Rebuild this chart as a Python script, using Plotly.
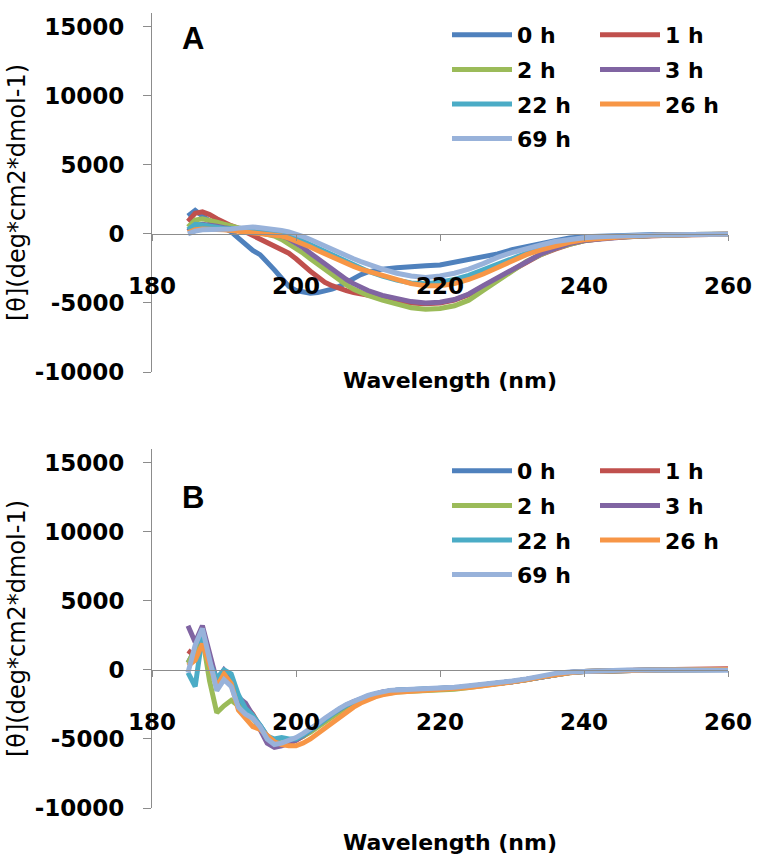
import plotly.graph_objects as go

# ---------------- data ----------------
series_names = ["0 h", "1 h", "2 h", "3 h", "22 h", "26 h", "69 h"]
series_colors = ["#4F81BD", "#C0504D", "#9BBB59", "#8064A2", "#4BACC6", "#F79646", "#98B2DA"]

# Panel A wavelengths (nm)
wl_a = [185, 186, 187, 188, 189, 190, 191, 192, 193, 194, 195, 196, 197, 198, 199, 200,
        201, 202, 203, 204, 205, 206, 207, 208, 209, 210, 212, 214, 216, 218, 220, 222,
        224, 226, 228, 230, 232, 234, 236, 238, 240, 243, 246, 250, 255, 260]

a_0h = [1300, 1700, 1300, 900, 600, 450, 150, -300, -800, -1200, -1500, -2000, -2600, -3200, -3800, -4100,
        -4200, -4300, -4250, -4150, -4000, -3800, -3500, -3200, -2950, -2750, -2550, -2450, -2350, -2300, -2250, -2050,
        -1850, -1650, -1450, -1150, -900, -700, -500, -300, -200, -150, -80, -50, -50, -50]
a_1h = [900, 1500, 1600, 1400, 1100, 800, 600, 400, 150, -100, -300, -600, -850, -1100, -1400, -1800,
        -2300, -2700, -3100, -3500, -3750, -3950, -4100, -4250, -4350, -4450, -4650, -4850, -5000, -5050, -5000, -4800,
        -4400, -3800, -3200, -2600, -2000, -1500, -1100, -750, -500, -300, -200, -100, -50, -30]
a_2h = [500, 1000, 1100, 1000, 850, 700, 550, 400, 300, 200, 100, 0, -150, -400, -700, -1050,
        -1400, -1800, -2200, -2600, -3000, -3350, -3700, -4000, -4250, -4450, -4800, -5100, -5350, -5450, -5400, -5200,
        -4800, -4100, -3400, -2700, -2000, -1500, -1050, -750, -500, -300, -200, -100, -50, -30]
a_3h = [200, 600, 700, 650, 550, 450, 380, 320, 260, 200, 150, 80, 0, -150, -350, -650,
        -1000, -1400, -1800, -2200, -2600, -2950, -3300, -3600, -3850, -4100, -4450, -4700, -4900, -5000, -4950, -4750,
        -4350, -3750, -3150, -2550, -1950, -1450, -1050, -700, -480, -300, -200, -100, -50, -30]
a_22h = [300, 700, 650, 550, 450, 400, 380, 380, 400, 420, 380, 300, 200, 80, -80, -300,
         -550, -800, -1050, -1300, -1550, -1800, -2050, -2300, -2500, -2700, -3050, -3350, -3550, -3600, -3500, -3300,
         -3000, -2600, -2200, -1800, -1350, -1000, -700, -500, -350, -200, -150, -80, -50, -30]
a_26h = [100, 300, 350, 350, 330, 300, 250, 200, 150, 100, 50, 0, -50, -150, -300, -500,
         -700, -950, -1200, -1450, -1700, -1950, -2150, -2350, -2550, -2700, -3050, -3350, -3600, -3750, -3750, -3600,
         -3300, -2900, -2450, -1950, -1500, -1150, -850, -600, -420, -280, -180, -100, -60, -30]
a_69h = [0, 200, 300, 300, 300, 300, 350, 420, 500, 500, 450, 400, 300, 250, 150, 0,
         -200, -400, -650, -900, -1100, -1350, -1600, -1800, -2000, -2200, -2550, -2850, -3050, -3150, -3050, -2850,
         -2550, -2150, -1700, -1350, -1050, -800, -550, -380, -270, -180, -120, -80, -50, -30]

# Panel B wavelengths (nm)
wl_b = [185, 186, 187, 188, 189, 190, 191, 192, 193, 194, 195, 196, 197, 198, 199, 200,
        201, 202, 203, 204, 205, 206, 207, 208, 209, 210, 211, 212, 213, 214, 216, 218,
        220, 222, 224, 226, 228, 230, 232, 234, 236, 238, 240, 243, 246, 250, 255, 260]

b_0h = [500, 1500, 2200, 500, -1200, -300, -800, -2300, -3000, -3400, -4000, -4800, -5200, -5300, -5200, -5000,
        -4700, -4400, -4000, -3600, -3200, -2850, -2550, -2300, -2100, -1900, -1750, -1600, -1520, -1480, -1450, -1420,
        -1380, -1300, -1200, -1100, -980, -850, -700, -500, -300, -180, -120, -60, -20, 0, 20, 30]
b_1h = [1400, 1000, 2600, 700, -900, -100, -700, -2000, -2600, -3200, -4100, -5000, -5300, -5400, -5300, -5100,
        -4800, -4450, -4050, -3650, -3250, -2900, -2600, -2350, -2150, -1950, -1780, -1630, -1540, -1490, -1450, -1420,
        -1380, -1300, -1200, -1100, -980, -850, -700, -500, -300, -180, -110, -50, -10, 20, 50, 80]
b_2h = [500, 1500, 2400, -800, -3100, -2600, -2200, -2600, -3000, -3500, -4200, -4900, -5200, -5300, -5200, -5000,
        -4800, -4500, -4150, -3750, -3350, -3000, -2700, -2450, -2250, -2050, -1900, -1750, -1650, -1600, -1550, -1520,
        -1480, -1400, -1280, -1150, -1020, -880, -720, -520, -320, -200, -120, -60, -20, 0, 20, 30]
b_3h = [3200, 2000, 3200, 1200, -800, 0, -600, -2000, -2400, -3300, -4300, -5300, -5600, -5500, -5300, -5100,
        -4750, -4400, -4000, -3600, -3200, -2850, -2550, -2300, -2100, -1900, -1750, -1600, -1520, -1480, -1450, -1420,
        -1380, -1300, -1200, -1100, -980, -850, -700, -500, -300, -180, -120, -60, -20, 0, 20, 30]
b_22h = [-200, -1200, 2500, 500, -600, 0, -300, -1800, -2800, -3300, -4000, -4800, -5000, -4900, -5000, -5000,
         -4700, -4400, -4000, -3600, -3200, -2850, -2550, -2300, -2100, -1900, -1750, -1600, -1520, -1480, -1450, -1420,
         -1380, -1300, -1200, -1100, -980, -850, -700, -500, -300, -180, -120, -60, -20, 0, 20, 30]
b_26h = [300, 700, 1900, 200, -1200, -300, -1000, -2900, -3500, -4100, -4300, -4800, -5200, -5400, -5500, -5500,
         -5300, -5000, -4600, -4200, -3800, -3400, -3000, -2700, -2400, -2150, -1950, -1800, -1700, -1620, -1550, -1500,
         -1450, -1380, -1280, -1150, -1020, -880, -720, -520, -320, -200, -120, -60, -20, 0, 20, 30]
b_69h = [-200, 1800, 3000, 900, -1500, -700, -1200, -2700, -3200, -3500, -4100, -5000, -5400, -5300, -5100, -4900,
         -4600, -4300, -3900, -3500, -3100, -2800, -2500, -2250, -2050, -1850, -1700, -1550, -1480, -1450, -1400, -1380,
         -1350, -1250, -1150, -1050, -950, -800, -650, -450, -250, -150, -100, -50, 0, 0, 0, -20]

x_ticks = [180, 200, 220, 240, 260]
y_ticks = [-10000, -5000, 0, 5000, 10000, 15000]
y_tick_text = ["-10000", "-5000", "0", "5000", "10000", "15000"]

panel_a = [a_0h, a_1h, a_2h, a_3h, a_22h, a_26h, a_69h]
panel_b = [b_0h, b_1h, b_2h, b_3h, b_22h, b_26h, b_69h]

# ---------------- layout geometry ----------------
W, H = 757, 859
Y_MIN, Y_MAX = -10000, 16000


def py(px):
    """pixel row -> paper fraction"""
    return 1 - px / H


def pxx(px):
    return px / W


x_dom = [pxx(152), pxx(728)]
ya_dom = [py(372), py(13)]
yb_dom = [py(808), py(449)]
zero_frac = (0 - Y_MIN) / (Y_MAX - Y_MIN)

TICK_FONT = dict(family="DejaVu Sans", size=23, color="black", weight="bold")
LEG_FONT = dict(family="DejaVu Sans", size=22, color="black", weight="bold")
TITLE_FONT = dict(family="DejaVu Sans", size=22, color="black", weight="bold")
AXIS_GREY = "#8C8C8C"

fig = go.Figure()

# legend placement per panel: left column (0,2,22,69 h) and right column (1,3,26 h)
legend_of = {
    "A": ["legend", "legend2", "legend", "legend2", "legend", "legend2", "legend"],
    "B": ["legend3", "legend4", "legend3", "legend4", "legend3", "legend4", "legend3"],
}

for panel, wl, data, xa, ya in [("A", wl_a, panel_a, "x", "y"), ("B", wl_b, panel_b, "x2", "y2")]:
    for i, (name, color, vals) in enumerate(zip(series_names, series_colors, data)):
        fig.add_trace(go.Scatter(
            x=wl, y=vals, name=name, mode="lines",
            line=dict(color=color, width=5),
            xaxis=xa, yaxis=ya,
            legend=legend_of[panel][i],
            legendgroup=f"{panel}{i}",
        ))


def x_axis(dom_y):
    return dict(
        domain=x_dom, range=[180, 260], anchor="free",
        position=dom_y[0] + zero_frac * (dom_y[1] - dom_y[0]),
        tickvals=x_ticks, ticks="outside", ticklen=6, tickcolor=AXIS_GREY,
        showline=True, linecolor=AXIS_GREY, linewidth=1,
        showgrid=False, zeroline=False,
        tickfont=TICK_FONT, ticklabelstandoff=25,
        automargin=False,
    )


def y_axis(dom_y, anchor):
    return dict(
        domain=dom_y, range=[Y_MIN, Y_MAX], anchor=anchor,
        tickvals=y_ticks, ticktext=y_tick_text,
        ticks="outside", ticklen=8, tickcolor=AXIS_GREY,
        showline=True, linecolor=AXIS_GREY, linewidth=1,
        showgrid=False, zeroline=False,
        tickfont=TICK_FONT, ticklabelstandoff=14,
        title=dict(text="[θ](deg*cm2*dmol-1)",
                   font=dict(family="DejaVu Sans", size=24, color="black"), standoff=2),
        automargin=False,
    )


def legend_box(x_px, y_px):
    return dict(
        x=pxx(x_px), y=py(y_px), xanchor="left", yanchor="top",
        orientation="v", font=LEG_FONT, bgcolor="rgba(0,0,0,0)",
        borderwidth=0, tracegroupgap=3, itemwidth=60,
    )


def text_note(text, x_px, y_px, font):
    return dict(text=text, x=pxx(x_px), y=py(y_px), xref="paper", yref="paper",
                xanchor="center", yanchor="middle", showarrow=False, font=font)


LETTER_FONT = dict(family="Liberation Sans", size=31, color="black", weight="bold")

fig.update_layout(
    width=W, height=H,
    margin=dict(l=0, r=0, t=0, b=0),
    paper_bgcolor="white", plot_bgcolor="white",
    showlegend=True,
    xaxis=x_axis(ya_dom), yaxis=y_axis(ya_dom, "x"),
    xaxis2=x_axis(yb_dom), yaxis2=y_axis(yb_dom, "x2"),
    legend=legend_box(447, 14),
    legend2=legend_box(595, 14),
    legend3=legend_box(447, 450),
    legend4=legend_box(595, 450),
    annotations=[
        text_note("A", 193, 38, LETTER_FONT),
        text_note("B", 193, 497, LETTER_FONT),
        text_note("Wavelength (nm)", 450, 381, TITLE_FONT),
        text_note("Wavelength (nm)", 450, 842, TITLE_FONT),
    ],
)

fig.write_html("out.html")
